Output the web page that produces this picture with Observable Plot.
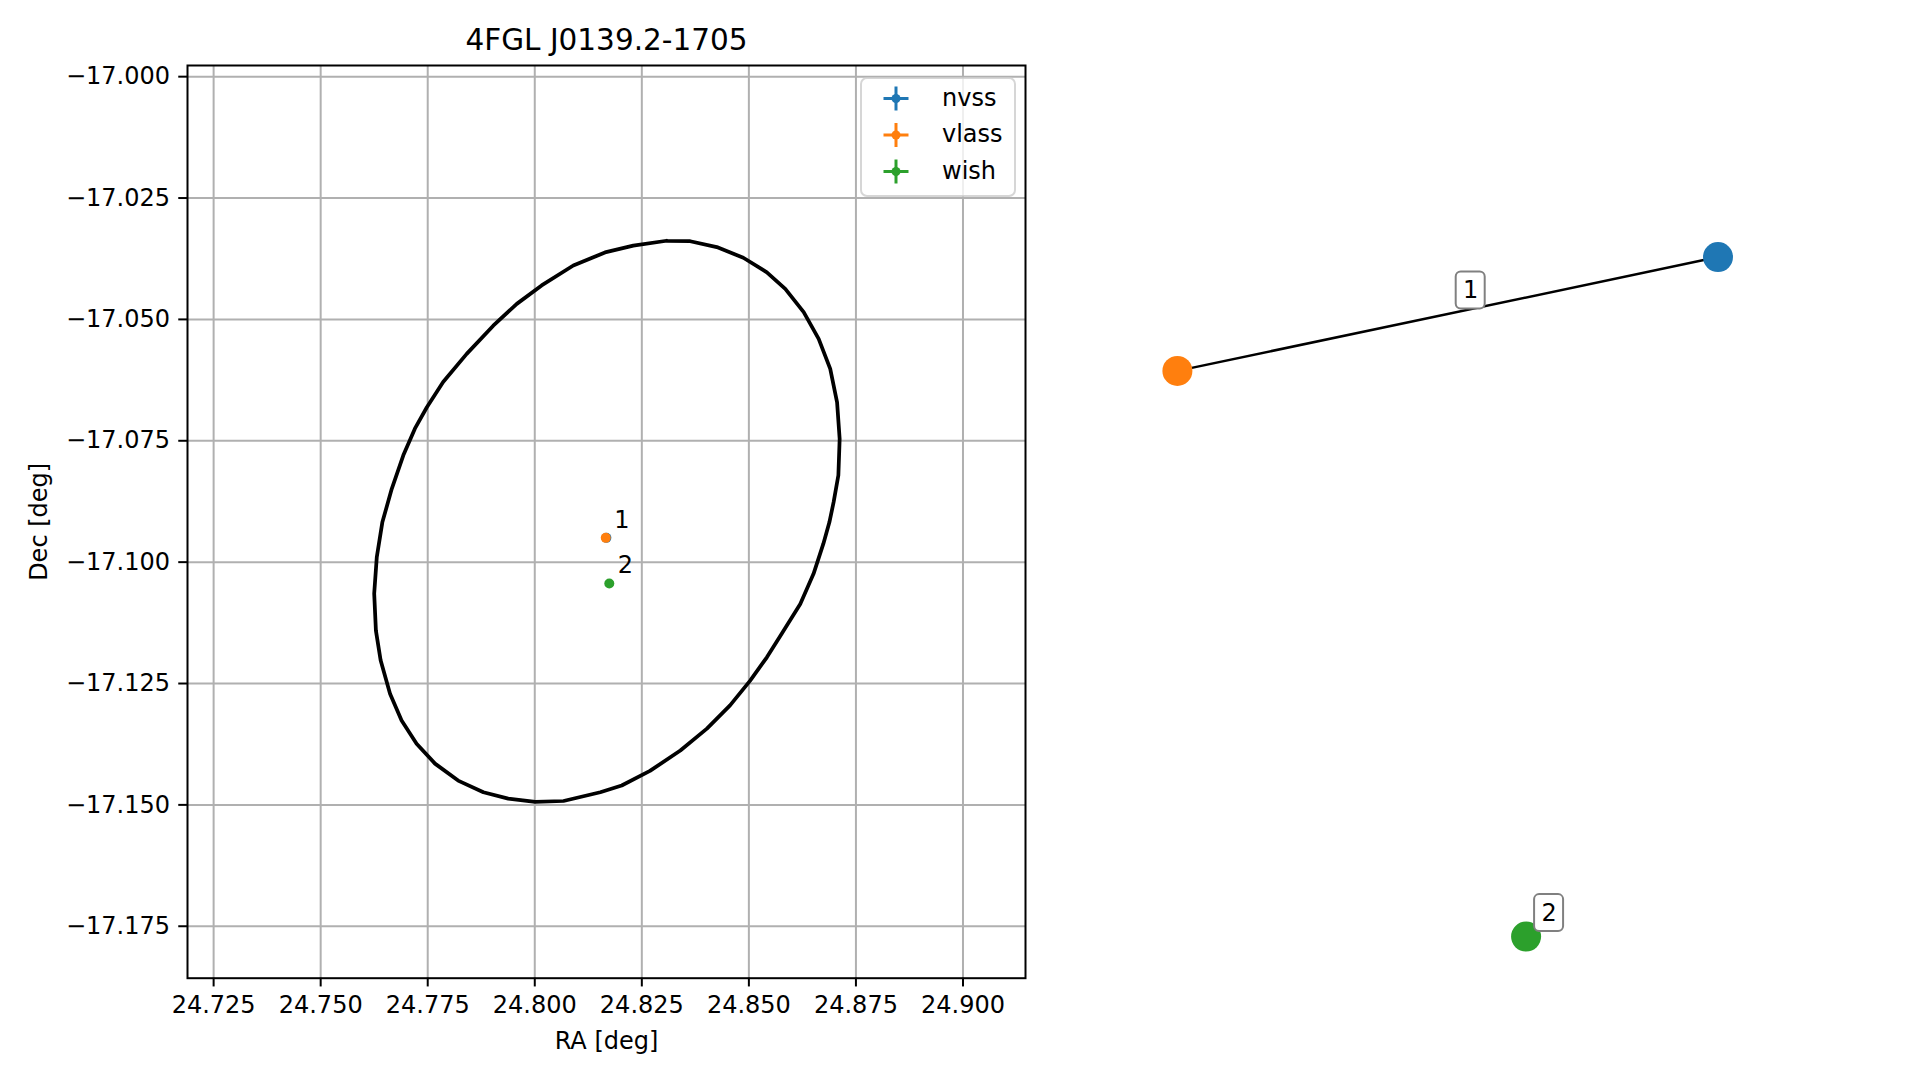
<!DOCTYPE html>
<html><head><meta charset="utf-8">
<script src="https://cdn.jsdelivr.net/npm/d3@7"></script>
<script src="https://cdn.jsdelivr.net/npm/@observablehq/plot@0.6"></script>
<style>
body{margin:0;background:#fff;}
#wrap{position:relative;width:1919px;height:1080px;overflow:hidden;background:#fff;font-family:"DejaVu Sans";}
#left{position:absolute;left:0;top:0;width:1050px;height:1080px;}
#right{position:absolute;left:1050px;top:0;width:869px;height:1080px;}
#left svg,#right svg{max-width:none;}
</style></head><body>
<div id="wrap"><div id="left"></div><div id="right"></div></div>
<script>
// ---------- data ----------
const title = "4FGL J0139.2-1705";
const xLabel = "RA [deg]";
const yLabel = "Dec [deg]";
const xTicks = [24.725, 24.750, 24.775, 24.800, 24.825, 24.850, 24.875, 24.900];
const yTicks = [-17.000, -17.025, -17.050, -17.075, -17.100, -17.125, -17.150, -17.175];
const xDomain = [24.7189, 24.9146];
const yDomain = [-17.1857, -16.9977];

const ellipseRA = [24.8308, 24.8363, 24.8425, 24.8487, 24.8542, 24.8585, 24.8628, 24.8663, 24.8690, 24.8706,
  24.8712, 24.8709, 24.8698, 24.8688, 24.8674, 24.8651, 24.8620, 24.8577, 24.8542, 24.8503,
  24.8456, 24.8402, 24.8340, 24.8269, 24.8203, 24.8153, 24.8067, 24.8001, 24.7938, 24.7880,
  24.7821, 24.7767, 24.7724, 24.7689, 24.7662, 24.7640, 24.7629, 24.7625, 24.7631, 24.7644,
  24.7666, 24.7693, 24.7720, 24.7748, 24.7786, 24.7841, 24.7903, 24.7958, 24.8016, 24.8090,
  24.8164, 24.8230];
const ellipseDec = [-17.0338, -17.0339, -17.0351, -17.0373, -17.0403, -17.0437, -17.0485, -17.0540, -17.0602, -17.0671,
  -17.0746, -17.0821, -17.0876, -17.0918, -17.0962, -17.1024, -17.1086, -17.1147, -17.1196, -17.1244,
  -17.1295, -17.1343, -17.1388, -17.1430, -17.1460, -17.1474, -17.1492, -17.1494, -17.1487, -17.1474,
  -17.1450, -17.1415, -17.1374, -17.1326, -17.1271, -17.1202, -17.1141, -17.1065, -17.0990, -17.0918,
  -17.0849, -17.0780, -17.0725, -17.0681, -17.0629, -17.0571, -17.0513, -17.0468, -17.0430, -17.0389,
  -17.0362, -17.0348];

const sourceNames = ["nvss", "vlass", "wish"];
const sourceColors = ["#1f77b4", "#ff7f0e", "#2ca02c"];
const sourceRA = [24.81672, 24.81658, 24.81740];
const sourceDec = [-17.09500, -17.09500, -17.10440];
const sourceLabels = ["", "1", "2"];

// graph panel (layout positions)
const nodeNames = ["nvss", "vlass", "wish"];
const nodeX = [1.000, -1.000, 0.290];
const nodeY = [1.257, 0.836, -1.257];
const edgeSource = ["vlass"];
const edgeTarget = ["nvss"];
const graphLabelText = ["1", "2"];
const graphLabelAt = [["vlass", "nvss"], ["wish"]];

// ---------- build ----------
const fmt = d3.format(".3f");
const ellipse = ellipseRA.map((ra, i) => ({ra, dec: ellipseDec[i]}));
ellipse.push(ellipse[0]);
const sources = sourceNames.map((name, i) => ({name, ra: sourceRA[i], dec: sourceDec[i], color: sourceColors[i], label: sourceLabels[i]}));

function legendMark(index, scales, values, dims) {
  const W = 154, H = 118;
  const x0 = dims.width - dims.marginRight - 10 - W;
  const y0 = dims.marginTop + 13;
  const g = d3.create("svg:g");
  g.append("rect").attr("x", x0).attr("y", y0).attr("width", W).attr("height", H).attr("rx", 6)
    .attr("fill", "white").attr("fill-opacity", 0.8).attr("stroke", "#cccccc").attr("stroke-opacity", 0.8).attr("stroke-width", 2);
  sourceNames.forEach((name, i) => {
    const cy = y0 + 20.5 + i * 36.5, cx = x0 + 35;
    const row = g.append("g").attr("stroke", sourceColors[i]).attr("stroke-width", 3);
    row.append("line").attr("x1", cx - 12.5).attr("x2", cx + 12.5).attr("y1", cy).attr("y2", cy);
    row.append("line").attr("x1", cx).attr("x2", cx).attr("y1", cy - 12).attr("y2", cy + 12);
    g.append("circle").attr("cx", cx).attr("cy", cy).attr("r", 4.5).attr("fill", sourceColors[i]);
    g.append("text").attr("x", x0 + 81).attr("y", cy).attr("dy", "0.31em").attr("text-anchor", "start")
      .attr("font-size", 24).attr("fill", "black").text(name);
  });
  return g.node();
}

const left = Plot.plot({
  width: 1050, height: 1080,
  marginLeft: 187, marginRight: 25, marginTop: 65, marginBottom: 102.3,
  style: {fontFamily: "DejaVu Sans", fontSize: "24px", background: "white", color: "black"},
  x: {domain: xDomain},
  y: {domain: yDomain},
  color: {type: "identity"},
  marks: [
    Plot.gridX(xTicks, {stroke: "#b0b0b0", strokeOpacity: 1, strokeWidth: 2}),
    Plot.gridY(yTicks, {stroke: "#b0b0b0", strokeOpacity: 1, strokeWidth: 2}),
    Plot.line(ellipse, {x: "ra", y: "dec", stroke: "black", strokeWidth: 3.75, strokeLinejoin: "round"}),
    Plot.dot(sources, {x: "ra", y: "dec", r: 5, fill: "color", stroke: null}),
    Plot.text(sources.filter(d => d.label), {x: "ra", y: "dec", text: "label", dx: 16, dy: -18, fontSize: 24, fill: "black"}),
    Plot.frame({stroke: "black", strokeWidth: 2}),
    Plot.axisX(xTicks, {tickFormat: fmt, tickSize: 8.75, tickPadding: 8.75, strokeWidth: 2, label: null, fontSize: 24}),
    Plot.axisY(yTicks, {tickFormat: fmt, tickSize: 8.75, tickPadding: 8.75, strokeWidth: 2, label: null, fontSize: 24}),
    Plot.text([title], {frameAnchor: "top", dy: -24.8, fontSize: 29.5, text: d => d, lineAnchor: "middle", textAnchor: "middle", fill: "black"}),
    Plot.text([xLabel], {frameAnchor: "bottom", dy: 63.2, fontSize: 24, text: d => d, lineAnchor: "middle", textAnchor: "middle", fill: "black"}),
    Plot.text([yLabel], {frameAnchor: "left", dx: -148.5, rotate: -90, fontSize: 24, text: d => d, lineAnchor: "middle", textAnchor: "middle", fill: "black"}),
    legendMark
  ]
});
document.getElementById("left").appendChild(left);

// graph panel
const nodes = nodeNames.map((name, i) => ({name, x: nodeX[i], y: nodeY[i], color: sourceColors[sourceNames.indexOf(name)]}));
const byName = new Map(nodes.map(d => [d.name, d]));
const edges = edgeSource.map((s, i) => ({s: byName.get(s), t: byName.get(edgeTarget[i])}));
const glabels = graphLabelText.map((text, i) => {
  const ns = graphLabelAt[i].map(n => byName.get(n));
  return {text, x: d3.mean(ns, d => d.x), y: d3.mean(ns, d => d.y)};
});
const boxMark = (data) => (index, scales) => {
  const g = d3.create("svg:g");
  for (const d of data) {
    g.append("rect")
      .attr("x", scales.x(d.x) + 23 - 14.5).attr("y", scales.y(d.y) - 23.5 - 18.5)
      .attr("width", 29).attr("height", 37).attr("rx", 5)
      .attr("fill", "white").attr("stroke", "#808080").attr("stroke-width", 2);
  }
  return g.node();
};

const right = Plot.plot({
  width: 869, height: 1080, marginLeft: 0, marginRight: 0, marginTop: 0, marginBottom: 0,
  style: {fontFamily: "DejaVu Sans", fontSize: "24px", background: "white", color: "black"},
  x: {domain: [-1.4695, 1.7455], axis: null},
  y: {domain: [-1.7893, 2.2063], axis: null},
  color: {type: "identity"},
  marks: [
    Plot.link(edges, {x1: d => d.s.x, y1: d => d.s.y, x2: d => d.t.x, y2: d => d.t.y, stroke: "black", strokeWidth: 2.5}),
    Plot.dot(nodes, {x: "x", y: "y", r: 15, fill: "color", stroke: null}),
    boxMark(glabels),
    Plot.text(glabels, {x: "x", y: "y", text: "text", dx: 23, dy: -23.5, fontSize: 24, fill: "black"})
  ]
});
document.getElementById("right").appendChild(right);
</script>
</body></html>
